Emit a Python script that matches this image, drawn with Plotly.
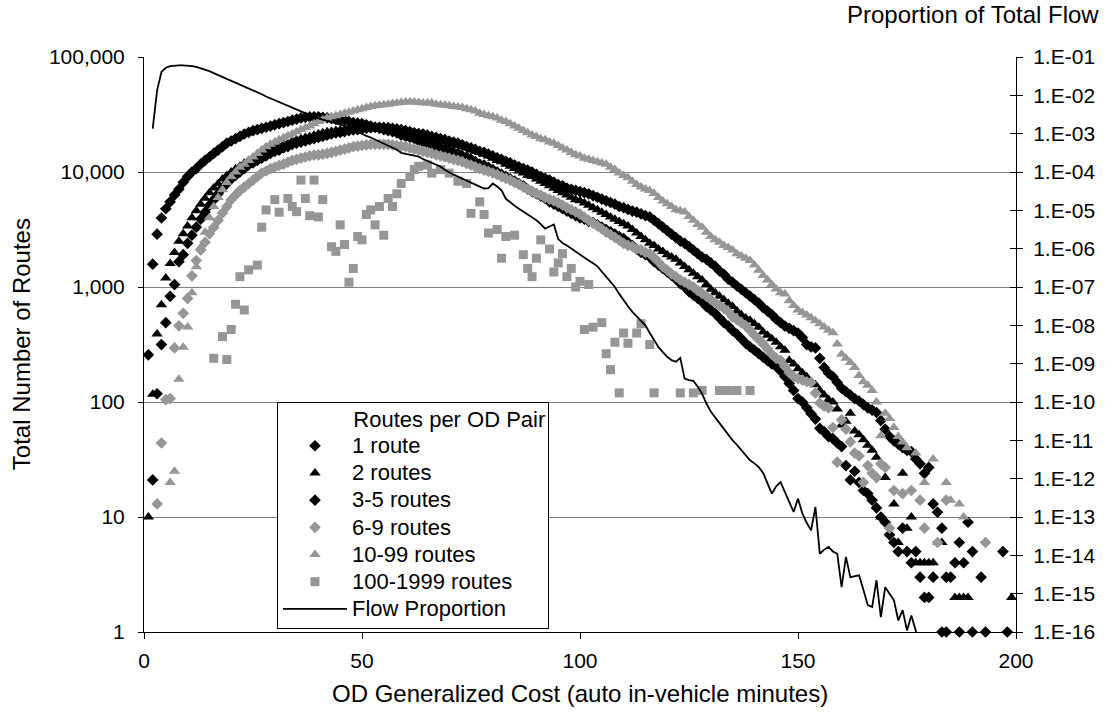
import plotly.graph_objects as go

# Generalized cost (minutes) shared by the per-minute route-count series
cost_minutes = list(range(1, 201))

# Number of routes per cost bin, by routes-per-OD-pair class (None = no routes)
routes_1 = [
    257, 1580, 2880, 3980, 4790, 5500, 6310, 7080, 8130, 9120,
    10000, 10700, 11700, 12600, 13500, 14500, 15500, 16600, 17800, 18600,
    19500, 20400, 21400, 22100, 22900, 23400, 24000, 24500, 25100, 25700,
    26300, 26900, 27500, 28200, 28800, 29500, 29900, 30200, 30200, 30200,
    29900, 29500, 29200, 28800, 28500, 28200, 27500, 26900, 26600, 26300,
    25700, 25100, 24500, 24000, 23400, 22900, 22400, 21900, 20900, 20400,
    20000, 19500, 18600, 18200, 17800, 17400, 16600, 16200, 15800, 15500,
    14800, 14500, 13800, 13500, 12900, 12300, 11700, 11500, 11000, 10500,
    10000, 9550, 9120, 8710, 8320, 7940, 7590, 7080, 6760, 6460,
    6170, 5890, 5500, 5250, 5010, 4790, 4570, 4370, 4170, 3980,
    3890, 3720, 3630, 3470, 3310, 3160, 3020, 2880, 2750, 2630,
    2450, 2290, 2140, 2000, 1910, 1820, 1660, 1550, 1450, 1350,
    1260, 1170, 1070, 1000, 912, 851, 794, 741, 676, 631,
    589, 537, 490, 457, 417, 389, 355, 324, 302, 282,
    263, 245, 229, 214, 204, 186, 166, 145, 126, 107,
    100, 89, 79, 71, 59, 55, 50, 48, 44, 41,
    28, 21, 25, 20, 17, 16, 14, 12, 10, 9,
    7, 6, 5, 8, 5, 4, 5, 3, 2, 2,
    3, None, 1, 1, None, 4, 1, None, None, 1,
    None, None, 1, None, None, None, None, 1, None, None,
]

routes_2 = [
    10, 117, 390, 700, 1200, 1600, 2000, 2500, 2900, 3400,
    4000, 4600, 5250, 5900, 6600, 7250, 7900, 8700, 9300, 10000,
    10600, 11200, 11900, 12600, 13200, 13800, 14500, 15100, 15500, 16200,
    16600, 17400, 17800, 18600, 19100, 19500, 20000, 20400, 20900, 21400,
    21900, 22400, 22600, 22900, 23200, 23400, 23700, 24000, 24000, 24000,
    24000, 24000, 23700, 23400, 23200, 22900, 22600, 22400, 22100, 21900,
    21400, 21100, 20900, 20400, 20000, 19500, 19100, 18600, 18200, 17800,
    17400, 17000, 16600, 16200, 15500, 15100, 14800, 14300, 13800, 13200,
    12600, 12300, 11700, 11200, 10700, 10200, 9800, 9330, 9120, 8710,
    8320, 7940, 7590, 7240, 6900, 6610, 6310, 6030, 5750, 5620,
    5370, 5130, 4900, 4700, 4470, 4270, 4070, 3890, 3720, 3550,
    3390, 3160, 2950, 2750, 2570, 2400, 2290, 2140, 2040, 1910,
    1820, 1740, 1620, 1510, 1410, 1320, 1230, 1150, 1050, 955,
    890, 832, 776, 724, 676, 617, 575, 537, 513, 479,
    447, 407, 380, 355, 331, 302, 282, 229, 214, 195,
    180, 166, 151, 141, 126, 115, 105, 100, 87, 63,
    68, 80, 56, 52, 47, 42, 38, 33, 10, 22,
    None, 13, 6, 24, 8, 10, 4, 4, 4, 4,
    4, None, 6, None, None, 2, 2, 2, 2, None,
    None, None, None, None, None, None, None, None, 2, None,
]

routes_3_5 = [
    None, 21, 118, 316, 490, 830, 1050, 1660, 1910, 2400,
    2820, 3310, 3890, 4470, 5130, 5750, 6460, 7240, 7940, 8710,
    9330, 10000, 10700, 11500, 12000, 12600, 13200, 13800, 14500, 15100,
    15500, 16200, 16600, 17400, 17800, 18200, 18600, 19100, 19500, 20000,
    20400, 20900, 21400, 21900, 22100, 22400, 22900, 23200, 23400, 23700,
    24000, 24300, 24500, 24500, 24500, 24300, 24000, 23700, 23400, 22900,
    22400, 21900, 21600, 21400, 20900, 20400, 20000, 19500, 19100, 18600,
    18200, 17800, 17200, 16600, 16200, 15700, 15100, 14800, 14300, 13800,
    13300, 12900, 12400, 12000, 11500, 11100, 10700, 10400, 10000, 9550,
    9120, 8810, 8510, 8130, 7760, 7590, 7240, 7080, 6920, 6760,
    6610, 6460, 6240, 6030, 5820, 5620, 5430, 5250, 5010, 4900,
    4730, 4570, 4470, 4320, 4170, 4070, 3800, 3550, 3310, 3090,
    2880, 2690, 2510, 2400, 2240, 2090, 1950, 1820, 1740, 1620,
    1510, 1380, 1290, 1170, 1100, 1020, 955, 891, 832, 776,
    724, 661, 617, 575, 525, 490, 457, 437, 417, 398,
    363, 316, 302, 295, 240, 200, 178, 166, 148, 132,
    123, 115, 107, 102, 95, 89, 85, 81, 69, 58,
    50, 46, 43, 40, 38, 37, 32, 29, 24, 27,
    13, 11, 8, 3, 3, None, 6, 4, 9, 5,
    None, 3, None, None, None, None, 5, None, None, None,
]

routes_6_9 = [
    None, None, 13, 44, 105, 107, 295, 460, 590, 795,
    1250, 1700, 2100, 2450, 2900, 3300, 3800, 4400, 5000, 5750,
    6300, 6900, 7400, 7900, 8500, 9100, 9800, 10200, 10700, 11000,
    11400, 11700, 12200, 12600, 12900, 13200, 13500, 13800, 14000, 14100,
    14300, 14500, 14800, 15100, 15500, 15800, 16200, 16600, 16800, 17000,
    17200, 17400, 17400, 17400, 17400, 17400, 17200, 17000, 16800, 16600,
    16200, 15800, 15500, 15100, 14800, 14500, 14100, 13800, 13500, 13200,
    12900, 12600, 12300, 11800, 11500, 11100, 10700, 10400, 10100, 9800,
    9500, 9100, 8800, 8500, 8100, 7800, 7400, 7100, 6800, 6500,
    6300, 6000, 5800, 5600, 5400, 5150, 4900, 4700, 4500, 4300,
    4050, 3800, 3600, 3400, 3200, 3000, 2850, 2700, 2550, 2400,
    2300, 2250, 2150, 2100, 2000, 1950, 1800, 1650, 1500, 1400,
    1300, 1230, 1150, 1100, 1050, 1000, 930, 880, 830, 780,
    730, 690, 650, 610, 550, 520, 490, 460, 420, 380,
    350, 320, 290, 260, 240, 230, 204, 180, 166, 160,
    155, 150, 148, 120, 98, 92, 89, 60, 30, 70,
    58, 45, 36, 34, 20, 28, 24, 22, 29, 27,
    8, 17, None, 16, None, 17, None, 14, 8, None,
    None, 6, None, 14, None, None, None, None, None, None,
    None, None, 6, None, None, None, None, None, None, None,
]

routes_10_99 = [
    None, None, None, None, None, 20, 25, 158, 300, 450,
    890, 1500, 2200, 3000, 4000, 5000, 6000, 7000, 8100, 9100,
    10000, 11000, 11700, 12600, 13500, 14500, 15500, 16600, 17400, 18200,
    19100, 19900, 20700, 21400, 22400, 23400, 24300, 25100, 26300, 27500,
    28500, 29500, 30200, 30900, 31600, 32400, 33100, 33900, 34700, 35500,
    36300, 37200, 37600, 38000, 38500, 38900, 39400, 39800, 40300, 40700,
    40700, 40700, 40300, 39800, 39800, 39800, 38900, 38500, 38000, 37600,
    37200, 36800, 36300, 35500, 34700, 33900, 32400, 31600, 30900, 30200,
    29500, 28200, 27500, 26300, 25100, 24000, 22900, 21900, 21000, 20400,
    19500, 19100, 18200, 17800, 17000, 16200, 15500, 14800, 14100, 13800,
    13200, 12900, 12600, 12300, 12000, 11700, 11000, 10500, 9800, 9300,
    8900, 8300, 7800, 7400, 7100, 6900, 6500, 6000, 5600, 5300,
    5000, 4700, 4600, 4500, 4100, 3800, 3500, 3300, 3000, 2750,
    2570, 2450, 2300, 2200, 2100, 1950, 1860, 1780, 1700, 1550,
    1400, 1260, 1150, 1050, 960, 890, 870, 760, 690, 630,
    600, 570, 540, 510, 480, 450, 420, 400, 320, 260,
    240, 220, 200, 170, 150, 140, 126, 100, 51, 80,
    72, 60, 50, 45, 40, None, 36, None, 20, None,
    32, 6, None, 20, 14, None, 13, 10, None, None,
    None, None, None, None, None, None, None, None, None, None,
]

# 100-1999 routes: sparse bins only
routes_100_1999_cost = [
    16, 18, 19, 20, 21, 22, 23, 24, 26, 27,
    28, 30, 31, 33, 34, 35, 36, 37, 38, 39,
    40, 41, 43, 44, 45, 46, 47, 48, 49, 50,
    51, 52, 53, 54, 55, 56, 57, 58, 59, 61,
    62, 63, 65, 66, 68, 70, 72, 74, 75, 77,
    78, 79, 81, 82, 83, 85, 87, 88, 89, 90,
    91, 93, 94, 95, 96, 97, 98, 99, 100, 101,
    102, 103, 105, 106, 107, 108, 109, 110, 111, 113,
    114, 116, 117, 123, 126, 128, 132, 134, 136, 139,
]
routes_100_1999 = [
    240, 370, 234, 427, 708, 1230, 631, 1410, 1550, 3310,
    4680, 5750, 4470, 5890, 5010, 4520, 8510, 5890, 4170, 8510,
    4070, 5750, 2240, 2040, 3470, 2340, 1100, 1450, 2750, 2570,
    4270, 4680, 3470, 5010, 2820, 5890, 5010, 6460, 7940, 9120,
    10500, 11200, 11500, 9770, 10500, 9770, 8320, 7940, 4370, 5500,
    4270, 2950, 3160, 1780, 2750, 2820, 1910, 1450, 1230, 1780,
    2570, 2140, 1350, 1620, 1950, 1230, 1450, 1000, 1120, 427,
    1050, 447, 490, 263, 191, 331, 120, 398, 324, 398,
    479, 316, 120, 120, 120, 126, 126, 126, 126, 126,
]

# Share of total flow by cost, minutes 2..178 (secondary axis)
flow_cost = list(range(2, 179))
flow_share = [
    1.35e-3, 1.35e-2, 4.07e-2, 5.25e-2, 5.75e-2, 5.96e-2, 6.03e-2, 6.03e-2, 5.96e-2,
    5.75e-2, 5.50e-2, 5.13e-2, 4.68e-2, 4.27e-2, 3.80e-2, 3.39e-2, 3.02e-2, 2.75e-2,
    2.45e-2, 2.19e-2, 1.95e-2, 1.70e-2, 1.51e-2, 1.35e-2, 1.20e-2, 1.07e-2, 9.33e-3,
    8.32e-3, 7.41e-3, 6.61e-3, 5.89e-3, 5.25e-3, 4.68e-3, 4.17e-3, 3.72e-3, 3.31e-3,
    3.02e-3, 2.75e-3, 2.51e-3, 2.34e-3, 2.19e-3, 2.04e-3, 1.91e-3, 1.78e-3, 1.66e-3,
    1.48e-3, 1.29e-3, 1.12e-3, 9.77e-4, 8.71e-4, 7.94e-4, 7.08e-4, 6.31e-4, 5.62e-4,
    5.01e-4, 4.47e-4, 3.80e-4, 3.16e-4, 2.95e-4, 2.82e-4, 2.69e-4, 2.51e-4, 2.19e-4,
    1.95e-4, 1.78e-4, 1.62e-4, 1.38e-4, 1.15e-4, 9.77e-5, 8.51e-5, 7.59e-5, 6.76e-5,
    5.89e-5, 5.25e-5, 4.57e-5, 4.07e-5, 3.72e-5, 3.80e-5, 5.01e-5, 4.17e-5, 3.31e-5,
    2.00e-5, 1.58e-5, 1.32e-5, 1.10e-5, 9.33e-6, 7.94e-6, 6.61e-6, 5.50e-6, 4.37e-6,
    3.31e-6, 3.80e-6, 4.27e-6, 1.78e-6, 1.41e-6, 1.20e-6, 1.00e-6, 8.32e-7, 6.76e-7,
    5.75e-7, 4.90e-7, 4.17e-7, 3.47e-7, 2.51e-7, 1.82e-7, 1.38e-7, 1.00e-7, 6.61e-8,
    4.47e-8, 3.16e-8, 2.24e-8, 1.74e-8, 1.32e-8, 1.00e-8, 6.31e-9, 4.17e-9, 2.69e-9,
    2.00e-9, 1.51e-9, 1.23e-9, 1.12e-9, 1.41e-9, 4.07e-10, 3.72e-10, 3.55e-10, 2.51e-10,
    1.66e-10, 9.12e-11, 5.62e-11, 3.98e-11, 2.82e-11, 2.00e-11, 1.32e-11, 1.00e-11,
    7.59e-12, 5.50e-12, 4.17e-12, 3.02e-12, 2.51e-12, 2.00e-12, 1.41e-12, 7.94e-13,
    4.07e-13, 6.31e-13, 8.13e-13, 4.47e-13, 2.51e-13, 1.35e-13, 3.02e-13, 1.23e-13,
    7.08e-14, 4.47e-14, 1.82e-13, 1.10e-14, 1.41e-14, 1.66e-14, 1.26e-14, 1.10e-14,
    1.48e-15, 9.12e-15, 2.69e-15, 2.82e-15, 3.02e-15, 1.26e-15, 5.01e-16, 4.47e-16,
    2.24e-15, 2.45e-16, 1.48e-15, 1.00e-15, 6.76e-16, 2.00e-16, 3.72e-16, 1.10e-16,
    2.69e-16, 1.10e-16, 2.50e-17,
]

# Axis ticks
cost_ticks = [0, 50, 100, 150, 200]
count_ticks = [1, 10, 100, 1000, 10000, 100000]
count_labels = ["1", "10", "100", "1,000", "10,000", "100,000"]
share_ticks = [10.0 ** -k for k in range(1, 17)]
share_labels = ["1.E-%02d" % k for k in range(1, 17)]

BLACK = "#000000"
GRAY = "#969696"
FONT = "Liberation Sans, Arial, sans-serif"
TICK_SIZE = 21
TITLE_SIZE = 24
LEGEND_TEXT = 22   # visible legend text size
LEGEND_ROW = 18.6  # sets legend row pitch


def legend_label(text):
    return "<span style='font-size:%dpx'>%s</span>" % (LEGEND_TEXT, text)


fig = go.Figure()

series = [
    ("1 route", cost_minutes, routes_1, "diamond", BLACK, 9),
    ("2 routes", cost_minutes, routes_2, "triangle-up", BLACK, 10),
    ("3-5 routes", cost_minutes, routes_3_5, "diamond", BLACK, 9),
    ("6-9 routes", cost_minutes, routes_6_9, "diamond", GRAY, 9),
    ("10-99 routes", cost_minutes, routes_10_99, "triangle-up", GRAY, 10),
    ("100-1999 routes", routes_100_1999_cost, routes_100_1999, "square", GRAY, 9),
]
for name, xs, ys, sym, col, size in series:
    fig.add_trace(go.Scatter(
        x=xs, y=ys, name=legend_label(name), mode="markers",
        marker=dict(symbol=sym, color=col, size=size, line=dict(width=0)),
        cliponaxis=False, yaxis="y",
    ))

fig.add_trace(go.Scatter(
    x=flow_cost, y=flow_share, name=legend_label("Flow Proportion"), mode="lines",
    line=dict(color=BLACK, width=1.8), yaxis="y2",
))

# helper trace so the inner half of the right-axis ticks is drawn
fig.add_trace(go.Scatter(x=[None], y=[None], yaxis="y3", showlegend=False,
                         hoverinfo="skip"))

fig.update_layout(
    width=1112, height=719,
    margin=dict(l=144, r=96, t=57, b=87),
    paper_bgcolor="white", plot_bgcolor="white",
    font=dict(family=FONT, size=TICK_SIZE, color="black"),
    xaxis=dict(
        range=[0, 200], tickvals=cost_ticks, showgrid=False, zeroline=False,
        showline=True, linecolor=BLACK, linewidth=1,
        ticks="outside", ticklen=6, tickcolor=BLACK,
        tickfont=dict(size=TICK_SIZE), ticklabelstandoff=4,
    ),
    yaxis=dict(
        type="log", range=[0, 5], tickvals=count_ticks, ticktext=count_labels,
        showgrid=True, gridcolor="#808080", gridwidth=1, zeroline=False,
        showline=True, linecolor=BLACK, linewidth=1,
        ticks="outside", ticklen=5, tickcolor=BLACK,
        tickfont=dict(size=TICK_SIZE), ticklabelstandoff=9,
    ),
    yaxis2=dict(
        type="log", range=[-16, -1], tickvals=share_ticks, ticktext=share_labels,
        overlaying="y", side="right", showgrid=False, zeroline=False,
        showline=True, linecolor=BLACK, linewidth=1,
        ticks="outside", ticklen=6, tickcolor=BLACK,
        tickfont=dict(size=TICK_SIZE), ticklabelstandoff=6,
    ),
    yaxis3=dict(
        type="log", range=[-16, -1], tickvals=share_ticks,
        overlaying="y", side="right", showgrid=False, zeroline=False,
        showline=False, showticklabels=False,
        ticks="inside", ticklen=6, tickcolor=BLACK,
    ),
    legend=dict(
        x=0.1525, y=0.4, xanchor="left", yanchor="top",
        bgcolor="white", bordercolor=BLACK, borderwidth=1,
        font=dict(family=FONT, size=LEGEND_ROW, color="black"),
        itemwidth=64, tracegroupgap=0,
        title=dict(text=legend_label("\u00a0" * 12 + "Routes per OD Pair"),
                   font=dict(family=FONT, size=LEGEND_ROW)),
    ),
    annotations=[
        dict(text="OD Generalized Cost (auto in-vehicle minutes)",
             xref="paper", yref="paper", x=0.5, y=-0.1066,
             xanchor="center", yanchor="middle", showarrow=False,
             font=dict(size=TITLE_SIZE)),
        dict(text="Total Number of Routes", textangle=-90,
             xref="paper", yref="paper", x=-0.1403, y=0.5,
             xanchor="center", yanchor="middle", showarrow=False,
             font=dict(size=TITLE_SIZE)),
        dict(text="Proportion of Total Flow",
             xref="paper", yref="paper", x=1.098, y=1.074,
             xanchor="right", yanchor="middle", showarrow=False,
             font=dict(size=TITLE_SIZE)),
    ],
)

fig.write_html("out.html")
